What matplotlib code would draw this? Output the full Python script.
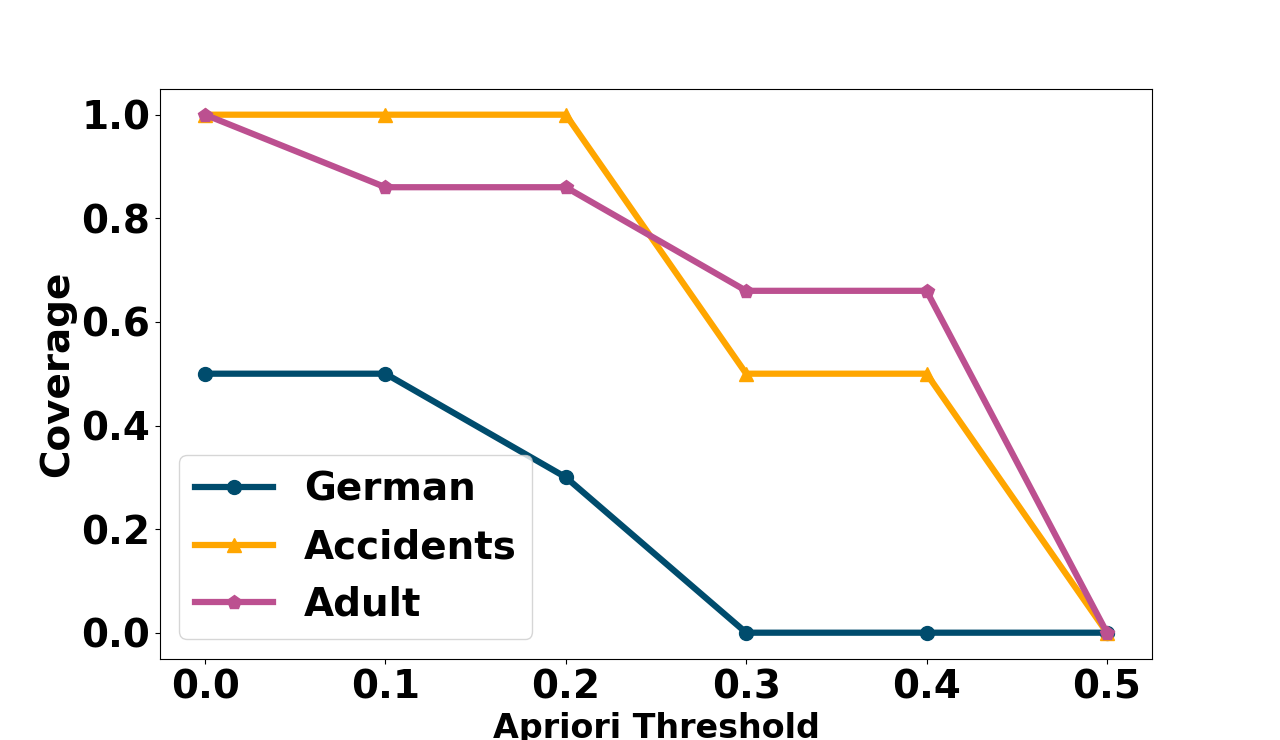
import matplotlib.pyplot as plt

# Data
thresholds = [0.0, 0.1, 0.2, 0.3, 0.4, 0.5]
german = [0.5, 0.5, 0.3, 0.0, 0.0, 0.0]
accidents = [1.0, 1.0, 1.0, 0.5, 0.5, 0.0]
adult = [1.0, 0.86, 0.86, 0.66, 0.66, 0.0]

plt.rcParams['font.weight'] = 'bold'

fig, ax = plt.subplots(figsize=(12.8, 7.4), dpi=100)

ax.plot(thresholds, german, marker='o', color='#004c6d', linewidth=4.5,
        markersize=10, label='German')
ax.plot(thresholds, accidents, marker='^', color='#ffa600', linewidth=4.5,
        markersize=10, label='Accidents')
ax.plot(thresholds, adult, marker='p', color='#bc5090', linewidth=4.5,
        markersize=10, label='Adult')

ax.set_xticks(thresholds)
ax.set_xlabel('Apriori Threshold', fontsize=24, fontweight='bold')
ax.set_ylabel('Coverage', fontsize=28, fontweight='bold')
ax.tick_params(axis='both', labelsize=28)
for lbl in ax.get_xticklabels() + ax.get_yticklabels():
    lbl.set_fontweight('bold')

ax.legend(loc='lower left', prop={'size': 28, 'weight': 'bold'})

plt.savefig('out.png')
